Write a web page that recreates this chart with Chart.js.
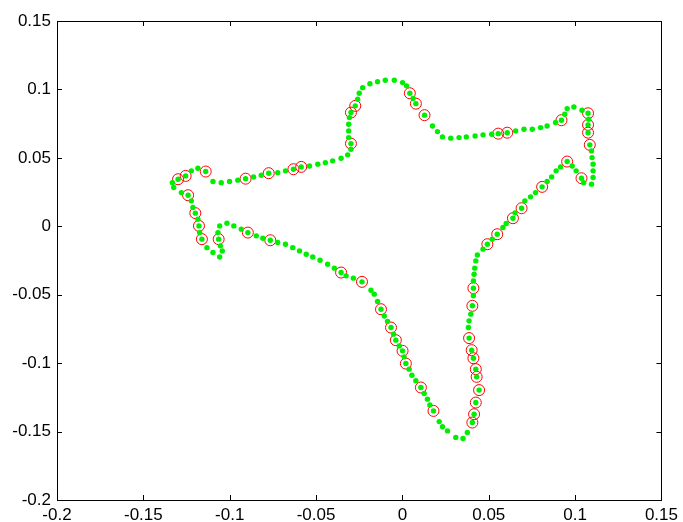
<!DOCTYPE html>
<html>
<head>
<meta charset="utf-8">
<script src="https://cdn.jsdelivr.net/npm/chart.js@4"></script>
<style>
  body { margin: 0; background: #fff; }
  canvas { display: block; }
</style>
</head>
<body>
<canvas id="myChart" width="683" height="522"></canvas>
<script>
// contour points (green dots), in path order
const contourX = [
    -0.1332, -0.1299, -0.1255, -0.1222, -0.1184, -0.1139, -0.1097, -0.1049, -0.1001, -0.0953,
    -0.0908, -0.0862, -0.0817, -0.0774, -0.0722, -0.0677, -0.0631, -0.0586, -0.0538, -0.0490,
    -0.0446, -0.0404, -0.0355, -0.0317, -0.0298, -0.0298, -0.0311, -0.0311, -0.0311, -0.0307,
    -0.0298, -0.0273, -0.0259, -0.0250, -0.0230, -0.0188, -0.0144, -0.0099, -0.0047, 0.0001,
    0.0024, 0.0043, 0.0062, 0.0078, 0.0128, 0.0174, 0.0203, 0.0232, 0.0280, 0.0328,
    0.0370, 0.0421, 0.0467, 0.0517, 0.0555, 0.0607, 0.0656, 0.0704, 0.0752, 0.0800,
    0.0838, 0.0887, 0.0921, 0.0940, 0.0954, 0.0993, 0.1040, 0.1075, 0.1079, 0.1075,
    0.1075, 0.1085, 0.1095, 0.1098, 0.1104, 0.1104, 0.1104, 0.1095, 0.1050, 0.1037,
    0.1006, 0.0983, 0.0954, 0.0916, 0.0890, 0.0864, 0.0838, 0.0809, 0.0771, 0.0742,
    0.0709, 0.0690, 0.0652, 0.0640, 0.0601, 0.0582, 0.0549, 0.0520, 0.0492, 0.0467,
    0.0434, 0.0425, 0.0419, 0.0415, 0.0411, 0.0411, 0.0411, 0.0405, 0.0396, 0.0386,
    0.0382, 0.0386, 0.0401, 0.0411, 0.0425, 0.0430, 0.0444, 0.0425, 0.0415, 0.0405,
    0.0376, 0.0351, 0.0309, 0.0261, 0.0232, 0.0213, 0.0180, 0.0159, 0.0145, 0.0126,
    0.0107, 0.0078, 0.0055, 0.0039, 0.0020, 0.0010, 0.0001, -0.0018, -0.0038, -0.0051,
    -0.0066, -0.0086, -0.0105, -0.0124, -0.0144, -0.0163, -0.0182, -0.0234, -0.0284, -0.0326,
    -0.0355, -0.0394, -0.0433, -0.0477, -0.0519, -0.0557, -0.0596, -0.0635, -0.0677, -0.0722,
    -0.0765, -0.0808, -0.0846, -0.0895, -0.0933, -0.0976, -0.1016, -0.1058, -0.1068, -0.1064,
    -0.1054, -0.1043, -0.1058, -0.1097, -0.1132, -0.1161, -0.1174, -0.1178, -0.1184, -0.1199,
    -0.1213, -0.1222, -0.1241, -0.1280, -0.1324
];
const contourY = [
    0.0319, 0.0344, 0.0368, 0.0405, 0.0424, 0.0400, 0.0327, 0.0319, 0.0327, 0.0337,
    0.0348, 0.0361, 0.0373, 0.0388, 0.0392, 0.0405, 0.0417, 0.0434, 0.0441, 0.0454,
    0.0465, 0.0478, 0.0497, 0.0522, 0.0563, 0.0604, 0.0648, 0.0697, 0.0746, 0.0794,
    0.0831, 0.0880, 0.0928, 0.0972, 0.1013, 0.1042, 0.1057, 0.1067, 0.1067, 0.1050,
    0.1026, 0.0972, 0.0934, 0.0896, 0.0812, 0.0733, 0.0692, 0.0653, 0.0644, 0.0648,
    0.0653, 0.0660, 0.0668, 0.0673, 0.0677, 0.0684, 0.0697, 0.0709, 0.0709, 0.0721,
    0.0733, 0.0758, 0.0775, 0.0819, 0.0860, 0.0872, 0.0848, 0.0826, 0.0782, 0.0741,
    0.0684, 0.0595, 0.0551, 0.0502, 0.0454, 0.0405, 0.0356, 0.0308, 0.0319, 0.0351,
    0.0405, 0.0441, 0.0473, 0.0434, 0.0405, 0.0361, 0.0327, 0.0288, 0.0246, 0.0215,
    0.0186, 0.0132, 0.0098, 0.0059, 0.0020, -0.0009, -0.0058, -0.0094, -0.0131, -0.0167,
    -0.0209, -0.0253, -0.0306, -0.0350, -0.0399, -0.0452, -0.0508, -0.0581, -0.0642, -0.0691,
    -0.0740, -0.0817, -0.0905, -0.0964, -0.1044, -0.1100, -0.1197, -0.1288, -0.1373, -0.1434,
    -0.1507, -0.1551, -0.1543, -0.1495, -0.1465, -0.1427, -0.1349, -0.1305, -0.1263, -0.1222,
    -0.1178, -0.1129, -0.1088, -0.1044, -0.1003, -0.0954, -0.0910, -0.0874, -0.0832, -0.0788,
    -0.0740, -0.0696, -0.0655, -0.0606, -0.0550, -0.0496, -0.0467, -0.0406, -0.0379, -0.0362,
    -0.0338, -0.0306, -0.0277, -0.0248, -0.0224, -0.0204, -0.0180, -0.0156, -0.0131, -0.0119,
    -0.0102, -0.0087, -0.0070, -0.0046, -0.0021, 0.0003, 0.0023, 0.0003, -0.0046, -0.0094,
    -0.0143, -0.0180, -0.0224, -0.0192, -0.0156, -0.0094, -0.0046, 0.0003, 0.0052, 0.0096,
    0.0137, 0.0186, 0.0227, 0.0246, 0.0283
];

// marked points (red circles)
const markX = [
    -0.1299, -0.1255, -0.1139, -0.0908, -0.0774, -0.0631, -0.0586, -0.0298, -0.0298, -0.0273,
    0.0043, 0.0078, 0.0128, 0.0555, 0.0607, 0.0921, 0.1075, 0.1075, 0.1075, 0.1085,
    0.1037, 0.0954, 0.0809, 0.0690, 0.0640, 0.0549, 0.0492, 0.0411, 0.0405, 0.0386,
    0.0401, 0.0411, 0.0425, 0.0430, 0.0444, 0.0425, 0.0415, 0.0405, 0.0180, 0.0107,
    0.0020, 0.0001, -0.0038, -0.0066, -0.0124, -0.0234, -0.0355, -0.0765, -0.0895, -0.1064,
    -0.1161, -0.1178, -0.1199, -0.1241
];
const markY = [
    0.0344, 0.0368, 0.0400, 0.0348, 0.0388, 0.0417, 0.0434, 0.0604, 0.0831, 0.0880,
    0.0972, 0.0896, 0.0812, 0.0677, 0.0684, 0.0775, 0.0826, 0.0741, 0.0684, 0.0595,
    0.0351, 0.0473, 0.0288, 0.0132, 0.0059, -0.0058, -0.0131, -0.0452, -0.0581, -0.0817,
    -0.0905, -0.0964, -0.1044, -0.1100, -0.1197, -0.1288, -0.1373, -0.1434, -0.1349, -0.1178,
    -0.1003, -0.0910, -0.0832, -0.0740, -0.0606, -0.0406, -0.0338, -0.0102, -0.0046, -0.0094,
    -0.0094, 0.0003, 0.0096, 0.0227
];

const xTicks = [-0.2, -0.15, -0.1, -0.05, 0, 0.05, 0.1, 0.15];
const yTicks = [-0.2, -0.15, -0.1, -0.05, 0, 0.05, 0.1, 0.15];

const toPoints = (xs, ys) => xs.map((x, i) => ({ x: x, y: ys[i] }));
const fmt = v => String(Number(Number(v).toFixed(2)));

// MATLAB style box with inward ticks on all four sides
const axesBox = {
    id: 'axesBox',
    afterDraw(chart) {
        const { ctx, chartArea: a, scales } = chart;
        const len = 5;
        ctx.save();
        ctx.strokeStyle = '#000';
        ctx.lineWidth = 1;
        ctx.beginPath();
        xTicks.forEach(v => {
            const px = Math.round(scales.x.getPixelForValue(v)) + 0.5;
            ctx.moveTo(px, a.bottom); ctx.lineTo(px, a.bottom - len);
            ctx.moveTo(px, a.top); ctx.lineTo(px, a.top + len);
        });
        yTicks.forEach(v => {
            const py = Math.round(scales.y.getPixelForValue(v)) + 0.5;
            ctx.moveTo(a.left, py); ctx.lineTo(a.left + len, py);
            ctx.moveTo(a.right, py); ctx.lineTo(a.right - len, py);
        });
        ctx.stroke();
        ctx.strokeRect(Math.round(a.left) + 0.5, Math.round(a.top) + 0.5,
            Math.round(a.right - a.left), Math.round(a.bottom - a.top));
        ctx.restore();
    }
};

const font = { family: '"Liberation Sans", Arial, sans-serif', size: 17 };

new Chart(document.getElementById('myChart'), {
    type: 'scatter',
    data: {
        datasets: [
            {
                label: 'marked',
                data: toPoints(markX, markY),
                pointRadius: 5.5,
                pointBorderWidth: 1,
                pointBorderColor: '#ff0000',
                pointBackgroundColor: 'rgba(0,0,0,0)',
                order: 2
            },
            {
                label: 'contour',
                data: toPoints(contourX, contourY),
                pointRadius: 2.7,
                pointBorderWidth: 0,
                pointBackgroundColor: '#00ee00',
                order: 1
            }
        ]
    },
    options: {
        responsive: false,
        animation: false,
        layout: { padding: { top: 21, right: 20, left: 0, bottom: 0 } },
        plugins: {
            legend: { display: false },
            tooltip: { enabled: false }
        },
        scales: {
            x: {
                type: 'linear',
                min: -0.2,
                max: 0.15,
                afterBuildTicks: s => { s.ticks = xTicks.map(v => ({ value: v })); },
                afterFit: s => { s.height = 22; },
                grid: { display: false, drawTicks: false },
                border: { display: false },
                ticks: { color: '#000', font: font, padding: 5, maxRotation: 0, autoSkip: false, callback: fmt }
            },
            y: {
                type: 'linear',
                min: -0.2,
                max: 0.15,
                afterBuildTicks: s => { s.ticks = yTicks.map(v => ({ value: v })); },
                afterFit: s => { s.width = 57; },
                grid: { display: false, drawTicks: false },
                border: { display: false },
                ticks: { color: '#000', font: font, padding: 6, autoSkip: false, callback: fmt }
            }
        }
    },
    plugins: [axesBox]
});
</script>
</body>
</html>
